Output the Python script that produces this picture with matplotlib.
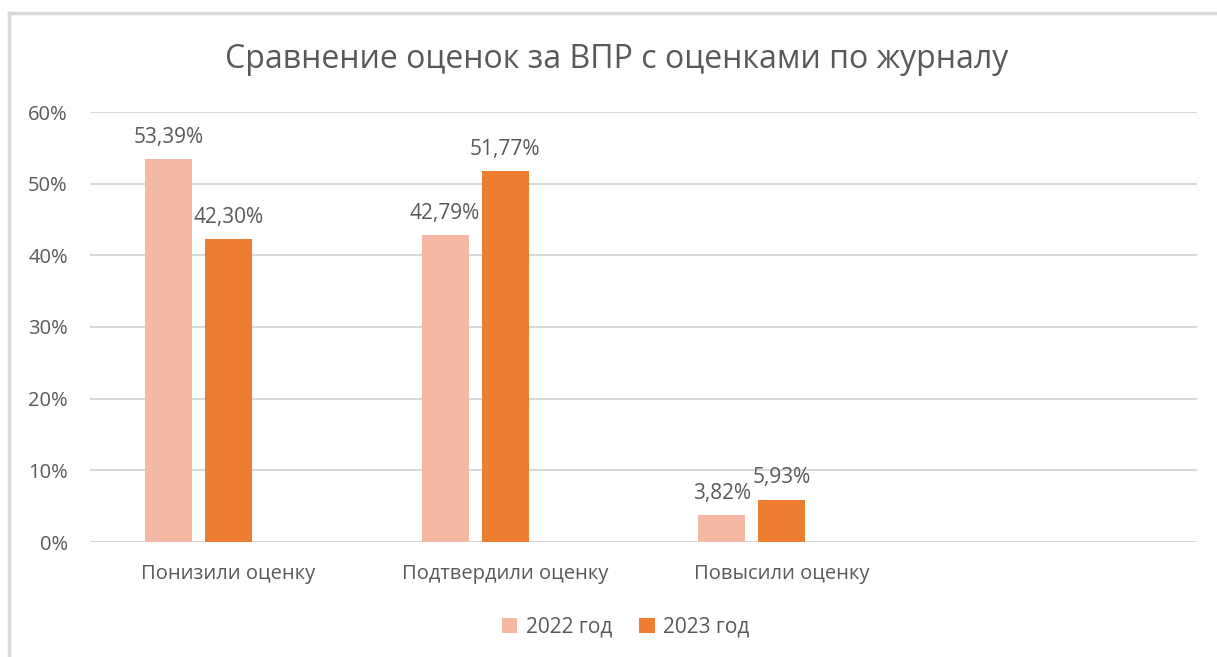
import numpy as np
import matplotlib
matplotlib.use("Agg")
import matplotlib.pyplot as plt
from matplotlib.lines import Line2D
from matplotlib.patches import Patch

plt.rcParams['font.family'] = ['Open Sans', 'DejaVu Sans']

TITLE = "Сравнение оценок за ВПР с оценками по журналу"
categories = ["Понизили оценку", "Подтвердили оценку", "Повысили оценку", ""]
series_names = ["2022 год", "2023 год"]
vals_2022 = [53.39, 42.79, 3.82, np.nan]
vals_2023 = [42.30, 51.77, 5.93, np.nan]
yticks = [0, 10, 20, 30, 40, 50, 60]

C22 = "#F4B8A4"
C23 = "#ED7D31"
GRID = "#D9D9D9"
TXT = "#595959"

W, H = 1217, 657
fig = plt.figure(figsize=(W / 100, H / 100), dpi=100)
ax = fig.add_axes([90 / W, 1 - 542 / H, (1197 - 90) / W, (542 - 112) / H])

x = np.arange(len(categories))
bw, step = 0.17, 0.217
for vals, off, col, name in ((vals_2022, -step, C22, series_names[0]),
                             (vals_2023, 0.0, C23, series_names[1])):
    bars = ax.bar(x + off, vals, width=bw, color=col, label=name, zorder=3)
    for b, v in zip(bars, vals):
        if np.isnan(v):
            continue
        ax.annotate(("%.2f%%" % v).replace(".", ","),
                    (b.get_x() + b.get_width() / 2, v), xytext=(0, 8),
                    textcoords="offset points", ha="center", va="bottom",
                    fontsize=15, color=TXT)

ax.set_xlim(-0.5, len(categories) - 0.5)
ax.set_ylim(0, 60)
ax.set_yticks(yticks)
ax.set_yticklabels(["%d%%" % t for t in yticks])
ax.set_xticks(x)
ax.set_xticklabels(categories)
ax.tick_params(length=0, labelsize=14.5, colors=TXT)
ax.tick_params(axis="x", pad=16)
ax.tick_params(axis="y", pad=16)
ax.grid(axis="y", color=GRID, linewidth=1.5, zorder=0)
for s in ax.spines.values():
    s.set_visible(False)

fig.text(0.507, 1 - 60 / H, TITLE, ha="center", va="center", fontsize=23, color=TXT)

handles = [Patch(facecolor=C22), Patch(facecolor=C23)]
fig.legend(handles, series_names, loc="center", bbox_to_anchor=(0.514, 1 - 627 / H),
           ncol=2, frameon=False, fontsize=15, labelcolor=TXT,
           handlelength=0.75, handleheight=0.75, handletextpad=0.4, columnspacing=1.3)

# chart-area border (continues past the image's right and bottom edges)
fig.add_artist(Line2D([9 / W, 9 / W], [0, 1 - 13 / H], color=GRID, linewidth=2.5))
fig.add_artist(Line2D([9 / W, 1], [1 - 13 / H, 1 - 13 / H], color=GRID, linewidth=2.5))

fig.savefig("out.png", dpi=100)
